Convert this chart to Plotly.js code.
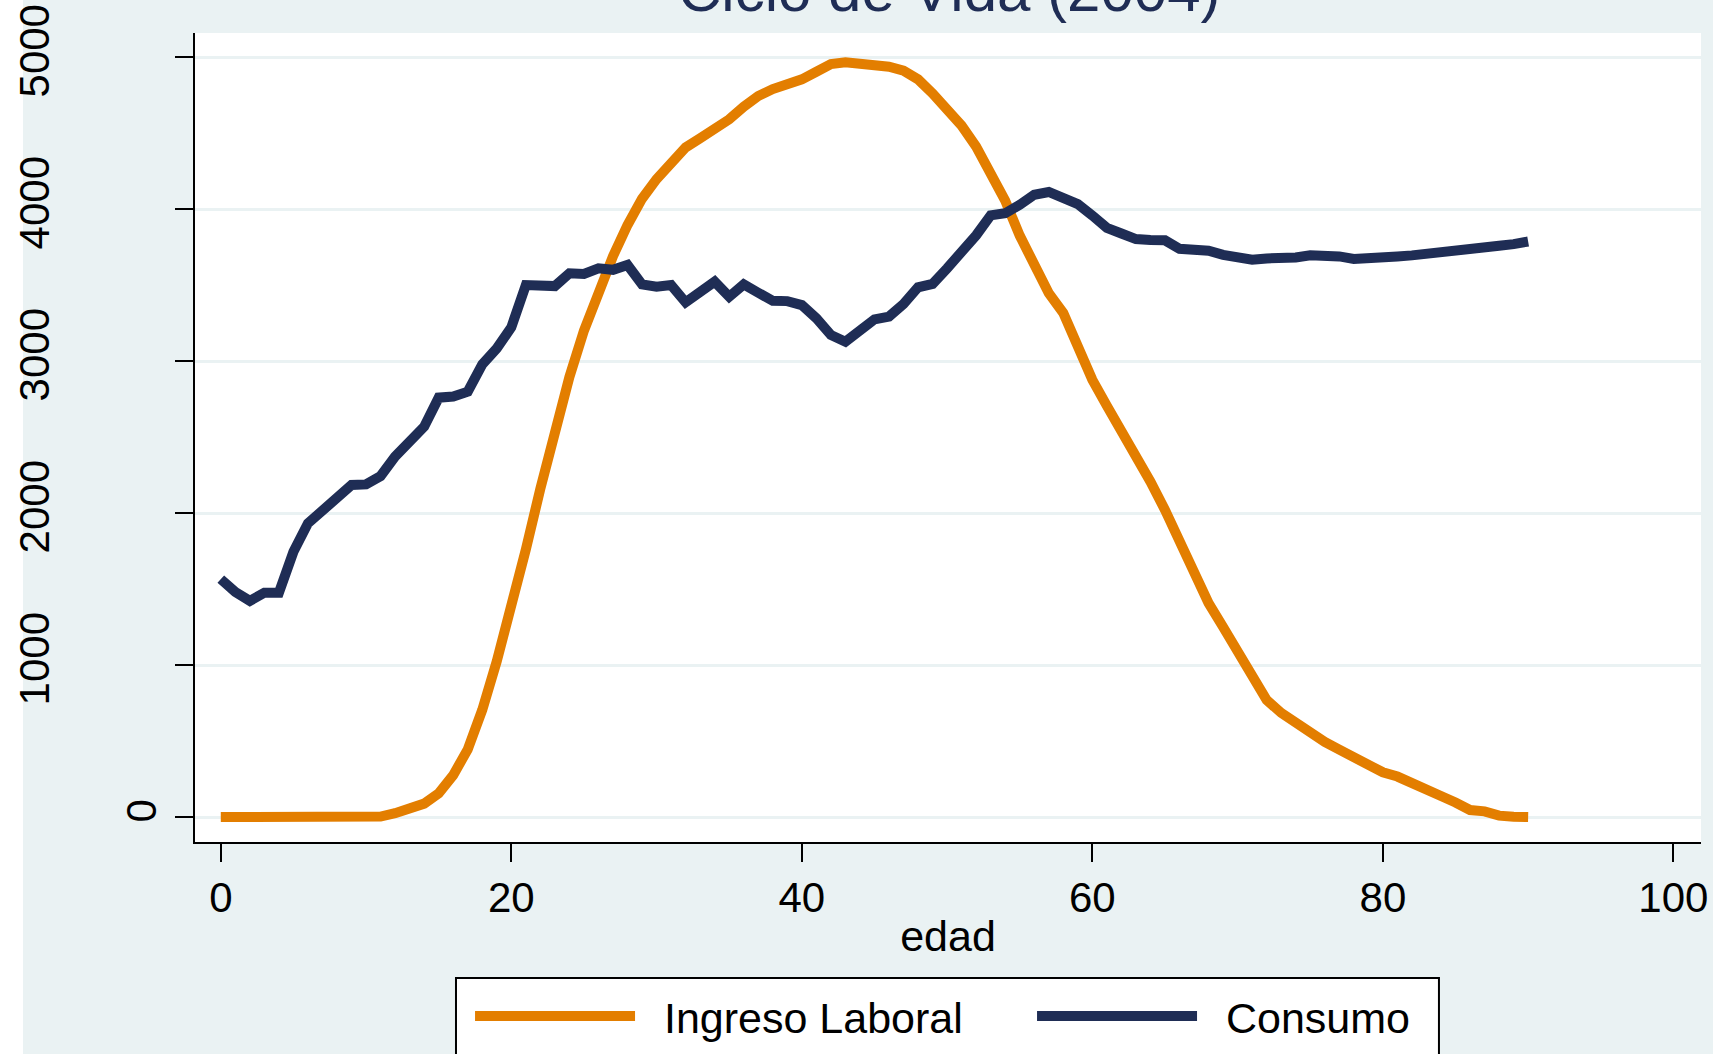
<!DOCTYPE html>
<html>
<head>
<meta charset="utf-8">
<script src="https://cdn.plot.ly/plotly-3.0.1.min.js"></script>
<style>
html,body{margin:0;padding:0;background:#ffffff;overflow:hidden;}
#chart{position:absolute;left:0;top:0;width:1713px;height:1054px;}
</style>
</head>
<body>
<div id="chart"></div>
<script>
// Edad (years)
const edad = [0,1,2,3,4,5,6,7,8,9,10,11,12,13,14,15,16,17,18,19,20,
  21,22,23,24,25,26,27,28,29,30,31,32,33,34,35,36,37,38,39,40,
  41,42,43,44,45,46,47,48,49,50,51,52,53,54,55,56,57,58,59,60,
  61,62,63,64,65,66,67,68,69,70,71,72,73,74,75,76,77,78,79,80,
  81,82,83,84,85,86,87,88,89,90];

// Ingreso Laboral
const ingresoLaboral = [0,0,0,0,0,0,0,0,0,0,0,
  3,25,50,88,155,275,445,705,1025,1380,
  1760,2160,2540,2895,3200,3460,3690,3895,4068,4197,
  4310,4405,4465,4520,4590,4673,4743,4789,4820,4853,
  4903,4954,4965,4958,4945,4936,4910,4853,4760,4651,
  4548,4410,4240,4055,3825,3619,3446,3316,3092,2876,
  2705,2548,2391,2206,2020,1806,1592,1407,1250,1079,
  913,770,685,616,548,494,443,388,337,294,
  266,228,183,138,95,46,37,9,2,0];

// Consumo
const consumo = [1565,1480,1422,1476,1476,1745,1932,2009,2103,2184,2188,
  2243,2371,2470,2568,2759,2766,2798,2978,3083,3222,
  3500,3504,3493,3577,3573,3610,3600,3632,3504,3489,
  3500,3386,3458,3522,3423,3504,3449,3396,3394,3368,
  3281,3171,3127,3204,3274,3292,3375,3485,3507,3610,
  3708,3827,3958,3972,4028,4094,4112,4080,4032,3957,
  3876,3839,3802,3796,3794,3738,3738,3726,3698,3689,
  3666,3675,3670,3681,3695,3695,3688,3672,3672,3672,
  3688,3695,3703,3712,3724,3732,3746,3758,3769,3786];

const xTicks = [0,20,40,60,80,100];
const yTicks = [0,1000,2000,3000,4000,5000];
const yTickText = ['','1000','2000','3000','4000','5000'];
const seriesNames = ['Ingreso Laboral','Consumo'];
const titleText = 'Ciclo de Vida (2004)';
const xTitle = 'edad';

const FONT = 'Liberation Sans, Arial, Helvetica, sans-serif';
const ORANGE = '#E37E00';
const NAVY = '#1F2D55';
const GRID = '#EAF2F3';
const yRange = [-164.5, 5158];
const NB = '\u00a0\u00a0';

const traces = [
  {x: edad, y: ingresoLaboral, name: NB + seriesNames[0], type: 'scatter', mode: 'lines',
   line: {color: ORANGE, width: 10}, xaxis: 'x', yaxis: 'y', hoverinfo: 'x+y'},
  {x: edad, y: consumo, name: NB + seriesNames[1], type: 'scatter', mode: 'lines',
   line: {color: NAVY, width: 10}, xaxis: 'x', yaxis: 'y2', hoverinfo: 'x+y'}
];

const axisCommon = {
  ticks: 'outside', ticklen: 18, tickwidth: 2, tickcolor: '#000',
  showline: true, linecolor: '#000', linewidth: 2, zeroline: false,
  tickfont: {family: FONT, size: 42, color: '#000'}
};

const layout = {
  width: 1713, height: 1054,
  paper_bgcolor: GRID, plot_bgcolor: '#ffffff',
  margin: {l: 195, r: 12, t: 33, b: 212, pad: 0, autoexpand: false},
  font: {family: FONT, color: '#000'},
  showlegend: true,
  xaxis: Object.assign({}, axisCommon, {
    range: [-1.776, 101.9], tickmode: 'array', tickvals: xTicks,
    showgrid: false, ticklabelstandoff: 0,
    title: {text: xTitle, font: {family: FONT, size: 43, color: '#000'}, standoff: 0}
  }),
  yaxis: Object.assign({}, axisCommon, {
    range: yRange, tickmode: 'array', tickvals: yTicks, ticktext: yTickText,
    tickangle: -90, showgrid: true, gridcolor: GRID, gridwidth: 3,
    ticklabelstandoff: 109
  }),
  yaxis2: {
    overlaying: 'y', side: 'left', range: yRange, tickmode: 'array',
    tickvals: [0], ticktext: ['0'], tickangle: -90, ticks: '',
    showgrid: false, showline: false, zeroline: false,
    tickfont: {family: FONT, size: 42, color: '#000'}, ticklabelstandoff: 30
  },
  legend: {
    orientation: 'h', x: 0.1813, y: -0.170, xanchor: 'left', yanchor: 'top',
    bgcolor: 'rgba(0,0,0,0)', bordercolor: 'rgba(0,0,0,0)', borderwidth: 2,
    font: {family: FONT, size: 43, color: '#000'},
    itemwidth: 160, entrywidth: 387, entrywidthmode: 'pixels', traceorder: 'normal'
  },
  shapes: [
    // white strip at the left edge of the image
    {type: 'rect', xref: 'paper', yref: 'paper', x0: -0.1295, x1: -0.1142, y0: -0.3, y1: 1.1,
     fillcolor: '#ffffff', line: {width: 0}, layer: 'below'},
    // legend frame
    {type: 'rect', xref: 'paper', yref: 'paper', x0: 0.1733, x1: 0.826, y0: -0.35, y1: -0.1681,
     fillcolor: '#ffffff', line: {width: 2, color: '#000'}, layer: 'below'}
  ],
  annotations: [{
    text: titleText, xref: 'paper', yref: 'paper', x: 0.5013, y: 1.052,
    xanchor: 'center', yanchor: 'middle', showarrow: false,
    font: {family: FONT, size: 60, color: NAVY}
  }]
};

Plotly.newPlot('chart', traces, layout, {displayModeBar: false, staticPlot: true});
</script>
</body>
</html>
